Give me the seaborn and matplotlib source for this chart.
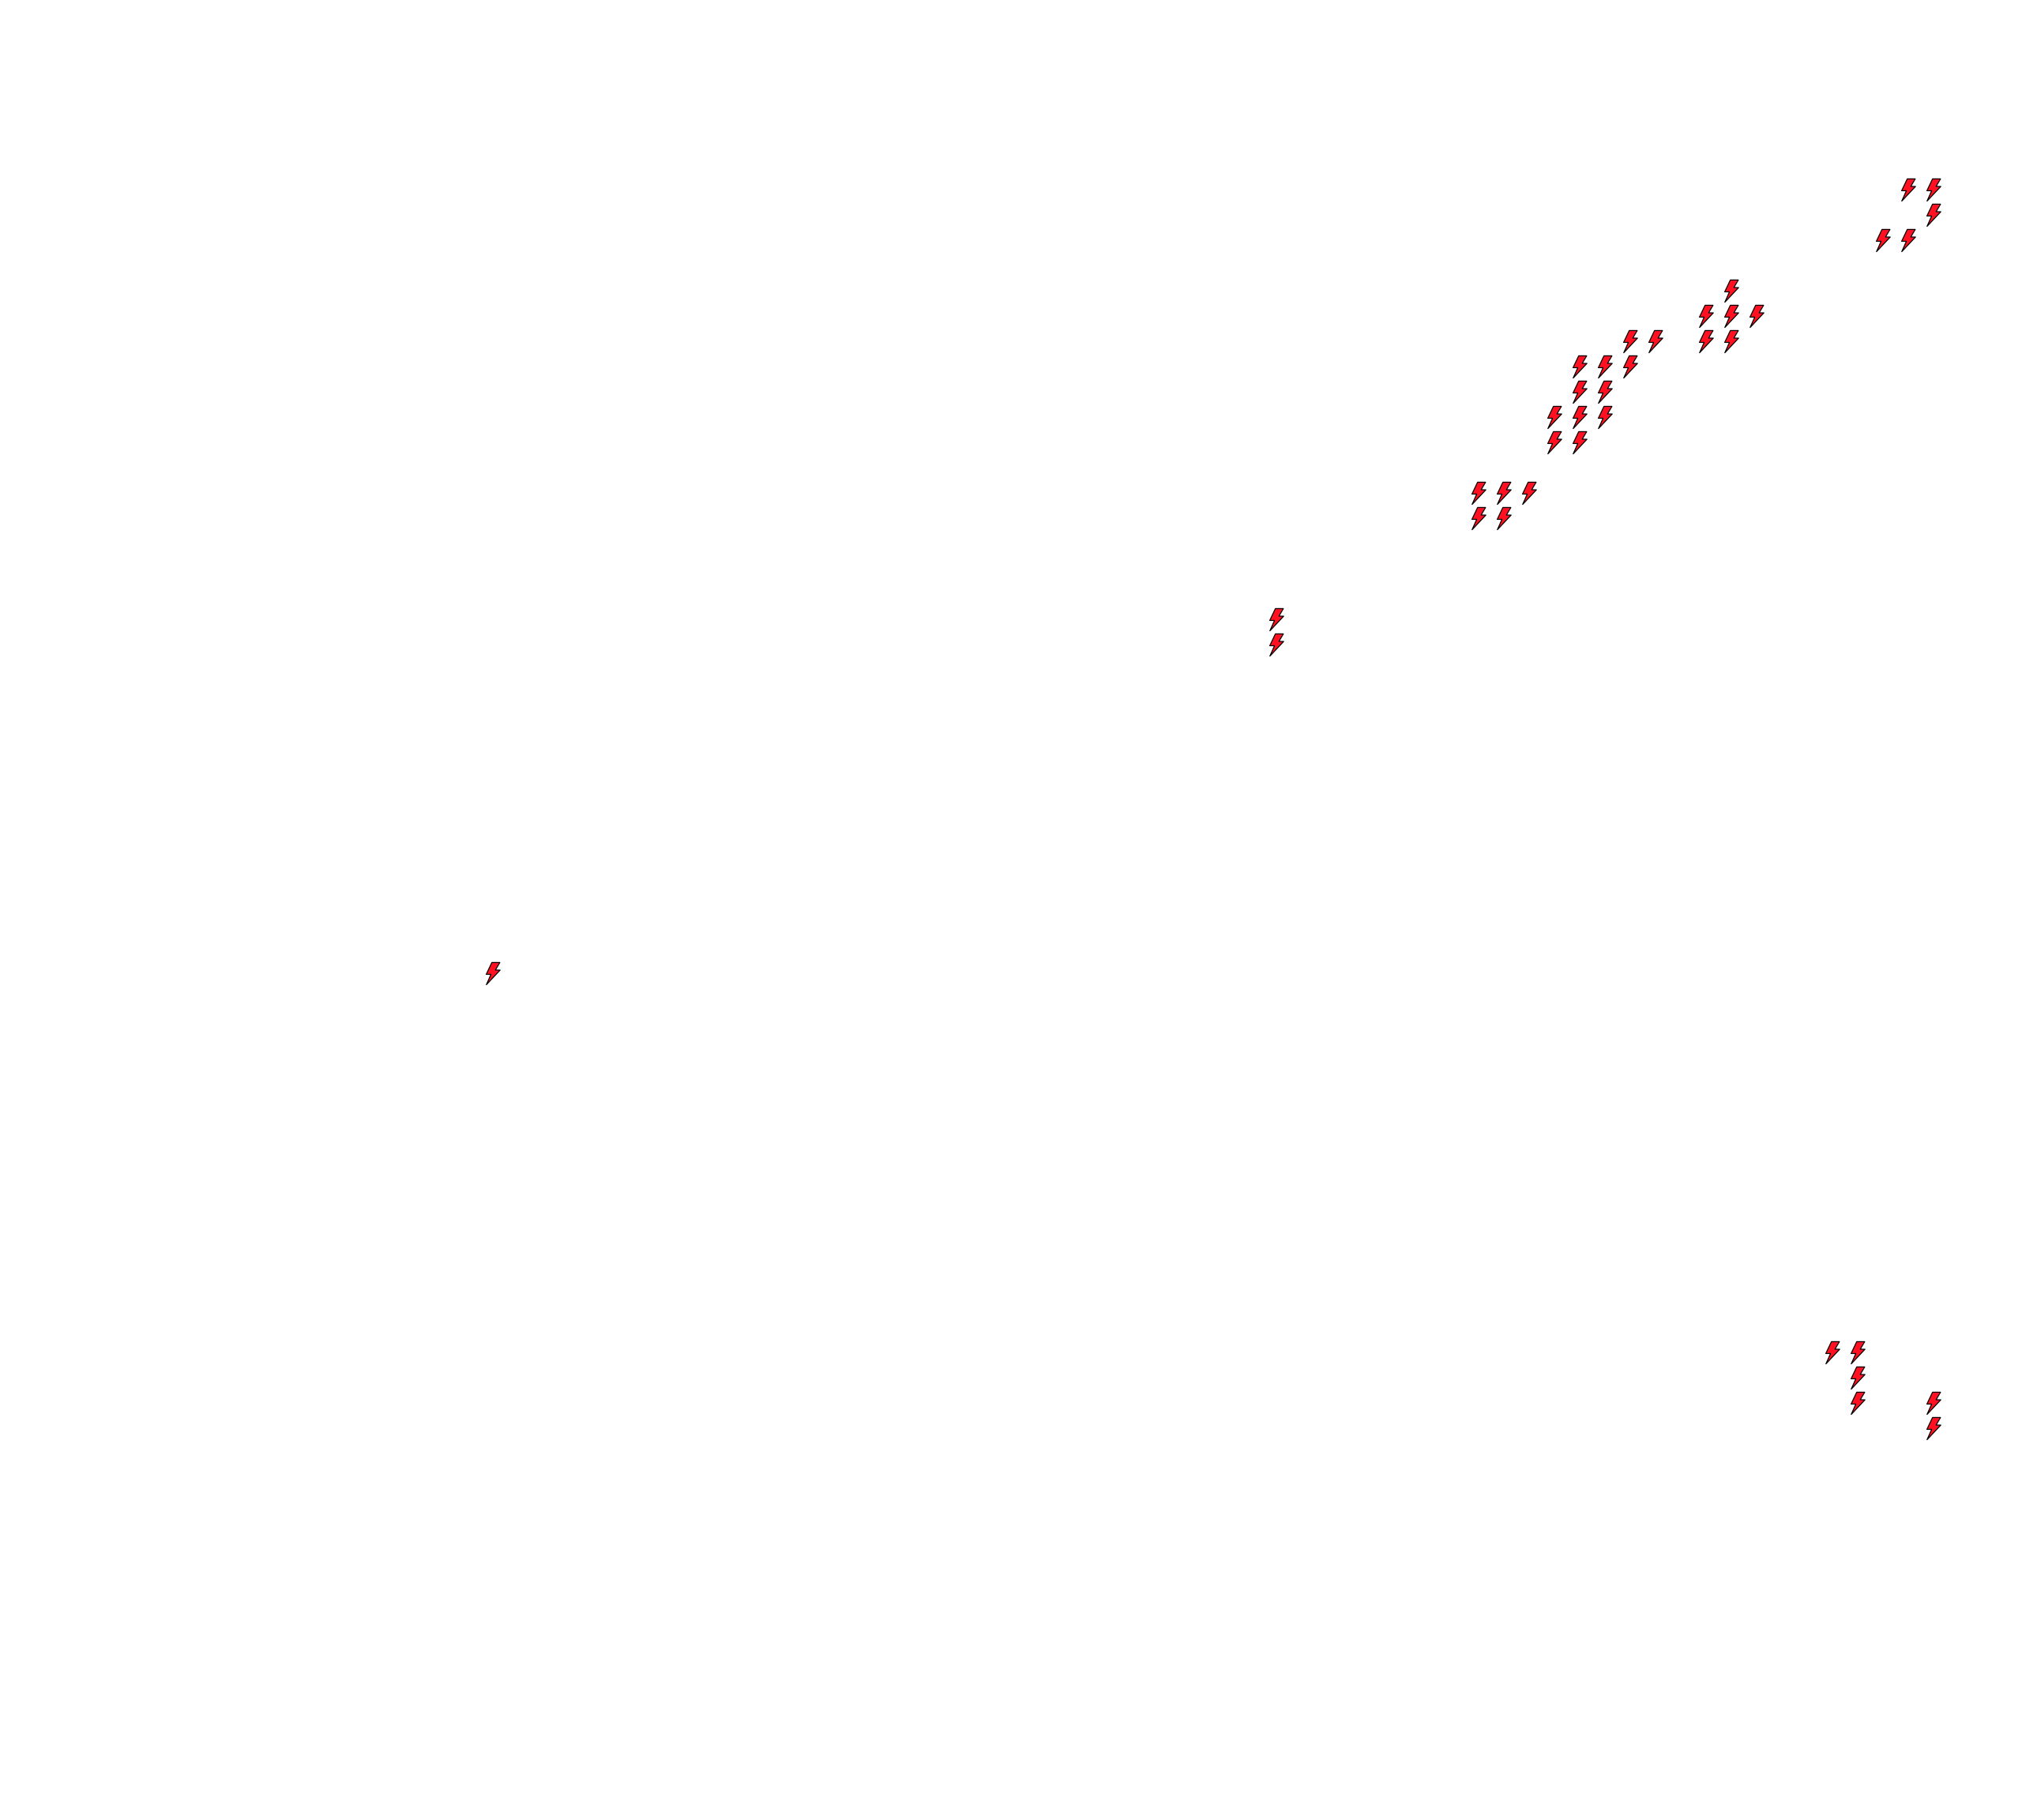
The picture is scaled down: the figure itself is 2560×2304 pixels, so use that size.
import matplotlib
matplotlib.use("Agg")
import matplotlib.pyplot as plt
from matplotlib.markers import MarkerStyle
from matplotlib.path import Path
import pandas as pd
import seaborn as sns

# grid cells holding a bolt (column, row from bottom)
cols = [75, 76, 76, 74, 75,
        68, 67, 68, 69, 64, 65, 67, 68,
        62, 63, 64, 62, 63, 61, 62, 63, 61, 62,
        58, 59, 60, 58, 59,
        50, 50,
        19,
        72, 73, 73, 73, 76, 76]
rows = [64, 64, 63, 62, 62,
        60, 59, 59, 59, 58, 58, 58, 58,
        57, 57, 57, 56, 56, 55, 55, 55, 54, 54,
        52, 52, 52, 51, 51,
        47, 46,
        33,
        18, 18, 17, 16, 16, 15]

sns.set_theme(style="white")

df = pd.DataFrame({"col": cols, "row": rows})

# lightning bolt outline
bolt = Path([(-1.8, 14.5), (8.6, 14.5), (2.8, 4.6), (9, 4.6), (-9, -14.5),
             (-3.0, -1.0), (-9.2, -1.0), (-1.8, 14.5)], closed=True)

fig = plt.figure(figsize=(25.6, 23.04), dpi=100)
ax = fig.add_axes([0, 0, 1, 1])

sns.scatterplot(data=df, x="col", y="row", marker=MarkerStyle(bolt), s=410,
                color="#ff1122", edgecolor="black", linewidth=0.9, legend=False, ax=ax)

ax.set_xlim(-0.51, 79.49)
ax.set_ylim(-0.5, 71.5)
ax.set_axis_off()

fig.savefig("out.png", dpi=100, facecolor="white")
